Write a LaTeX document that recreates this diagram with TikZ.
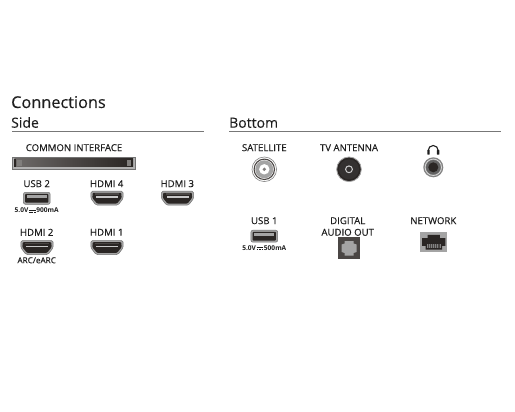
\documentclass[tikz,border=0pt]{standalone}
\usepackage{fontspec}
\setmainfont{Open Sans}
\definecolor{txt}{HTML}{1E1E1E}
\definecolor{rulec}{HTML}{777777}
\definecolor{metal}{HTML}{A4A4A4}
\definecolor{dark}{HTML}{4A4644}
\definecolor{deep}{HTML}{2A2624}
\newcommand{\dcsym}{\kern.5pt\raisebox{.6ex}{\rlap{\rule{1.05em}{.45pt}}\raisebox{-.28em}{\rule{.27em}{.45pt}\kern.12em\rule{.27em}{.45pt}\kern.12em\rule{.27em}{.45pt}}}\kern.5pt}
\tikzset{
  x=1pt,y=-1pt,
  h1/.style={anchor=base west,inner sep=0pt,text=txt,font=\fontsize{16.3}{18}\selectfont\addfontfeatures{FakeBold=0.15}},
  h2/.style={anchor=base west,inner sep=0pt,text=txt,font=\fontsize{14}{16}\selectfont\addfontfeatures{FakeBold=0.15}},
  lab/.style={inner sep=0pt,text=txt,font=\fontsize{9.6}{11}\selectfont\addfontfeatures{FakeBold=0.3}},
  smallb/.style={inner sep=0pt,text=txt,font=\fontsize{6.6}{7}\selectfont\bfseries},
  smalln/.style={inner sep=0pt,text=txt,font=\fontsize{8.2}{9}\selectfont\addfontfeatures{FakeBold=0.2}},
  rulel/.style={draw=rulec,line width=0.8pt},
  pics/hdmi/.style={code={
    \path[fill=metal,draw=metal!70!black,line width=.5pt,rounded corners=1.5pt]
      (-16,-7)--(16,-7)--(16.3,0)--(11,7)--(-11,7)--(-16.3,0)--cycle;
    \path[fill=deep,rounded corners=1pt]
      (-14.3,-5.4)--(14.3,-5.4)--(14.6,-0.3)--(10,5.4)--(-10,5.4)--(-14.6,-0.3)--cycle;
    \path[fill=metal!60!white] (-11,-2) rectangle (11,-.6);
    \path[fill=dark] (-12,-5) rectangle (12,-3.2);
  }},
  pics/usb/.style={code={
    \path[fill=metal,draw=metal!70!black,line width=.5pt,rounded corners=2pt] (-13.4,-6) rectangle (13.4,6);
    \path[fill=deep,rounded corners=.8pt] (-11.6,-4.4) rectangle (11.6,4.4);
    \path[fill=metal] (-10,-2.8) rectangle (10,.2);
  }}
}
\begin{document}
\begin{tikzpicture}
\useasboundingbox[fill=white] (0,0) rectangle (515,412);
% headings
\node[h1] (tConn) at (11,108) {Connections};
\node[h2] (tSide) at (11,127.7) {Side};
\node[h2] (tBottom) at (229,127.7) {Bottom};
\draw[rulel] (12,131.7) -- (204,131.7);
\draw[rulel] (229,131.7) -- (501,131.7);
% side labels
\node[lab] (tCI) at (74,147.7) {COMMON INTERFACE};
\node[lab] (tU2) at (36.7,183.7) {USB 2};
\node[lab] (tH4) at (106.7,183.7) {HDMI 4};
\node[lab] (tH3) at (177.3,183.7) {HDMI 3};
\node[smallb] (tU2v) at (36.7,210) {5.0V\dcsym 900mA};
\node[lab] (tH2) at (36.7,232.3) {HDMI 2};
\node[lab] (tH1) at (106.7,232.3) {HDMI 1};
\node[smalln] (tArc) at (36.7,260.3) {ARC/eARC};
% common interface slot
\path[fill=metal!85!white,draw=metal!70!black,line width=.5pt] (12.3,157) rectangle (135,169);
\shade[left color=dark!80!white,right color=deep,middle color=dark] (14.3,159) rectangle (133,167);
\path[fill=deep] (14.3,159) rectangle (16,167);
\path[fill=deep] (131.3,159) rectangle (133,167);
\path[fill=dark!70!white] (17,160) rectangle (21.5,166);
\path[fill=dark!70!white] (127,160) rectangle (130.5,166);
% side icons
\pic at (36.8,198.3) {usb};
\pic at (107,198.2) {hdmi};
\pic at (177.5,198.2) {hdmi};
\pic at (37,247.5) {hdmi};
\pic at (107,247.5) {hdmi};
% bottom labels
\node[lab] (tSat) at (264.3,147.7) {SATELLITE};
\node[lab] (tAnt) at (349,147.7) {TV ANTENNA};
\node[lab] (tU1) at (264.3,220.7) {USB 1};
\node[smallb] (tU1v) at (264.3,247.7) {5.0V\dcsym 500mA};
\node[lab] (tDig) at (347.7,220.7) {DIGITAL};
\node[lab] (tAud) at (347.7,232.3) {AUDIO OUT};
\node[lab] (tNet) at (433.3,220.7) {NETWORK};
% satellite
\draw[fill=white,draw=metal!80!black,line width=.6pt] (264.3,169.3) circle (12.3);
\draw[fill=white,draw=dark,line width=1.1pt] (264.3,169.3) circle (10.2);
\fill[metal] (264.3,169.3) circle (9);
\fill[white] (264.3,169.3) circle (5.2);
\fill[dark!70!white] (264.3,169.3) circle (1.8);
% TV antenna
\draw[fill=deep,draw=metal,line width=.8pt] (349,169.3) circle (12.3);
\fill[dark!70!black] (349,169.3) circle (10);
\draw[white!80!black,line width=1pt] (349,169.3) circle (3.4);
% headphones symbol
\draw[txt,line width=1.1pt] (428.2,150.5) arc[start angle=180,end angle=360,radius=5];
\fill[txt,rounded corners=.4pt] (427.3,150) rectangle (429.7,154.6);
\fill[txt,rounded corners=.4pt] (436.9,150) rectangle (439.3,154.6);
% jack
\fill[metal!80!black] (433.3,167.3) circle (10);
\draw[white!85!black,line width=.8pt] (433.3,167.3) circle (8.2);
\fill[metal!60!black] (433.3,167.3) circle (7.2);
\fill[deep] (433.3,167.3) circle (5);
% USB 1
\pic at (264.3,236.2) {usb};
% optical
\fill[dark] (337.7,237.3) rectangle (360.3,259.3);
\path[fill=metal] (344.5,241)--(353.5,241)--(353.5,243.5)--(356.5,244.5)--(356.5,252)--(353.5,253)--(353.5,255.5)--(344.5,255.5)--(344.5,253)--(341.5,252)--(341.5,244.5)--(344.5,243.5)--cycle;
% network
\fill[metal] (420,231.7) rectangle (447.3,251.7);
\path[fill=deep] (422,245.8)--(422,238)--(427.5,238)--(427.5,234.8)--(439.8,234.8)--(439.8,238)--(445.3,238)--(445.3,245.8)--(442,245.8)--(442,249.5)--(425.5,249.5)--(425.5,245.8)--cycle;
\path[fill=metal!80!black] (427,244) rectangle (440.5,248);
\foreach \i in {0,...,6}{\fill[dark] (428+\i*1.9,244) rectangle (428.7+\i*1.9,248);}
\end{tikzpicture}
\end{document}
